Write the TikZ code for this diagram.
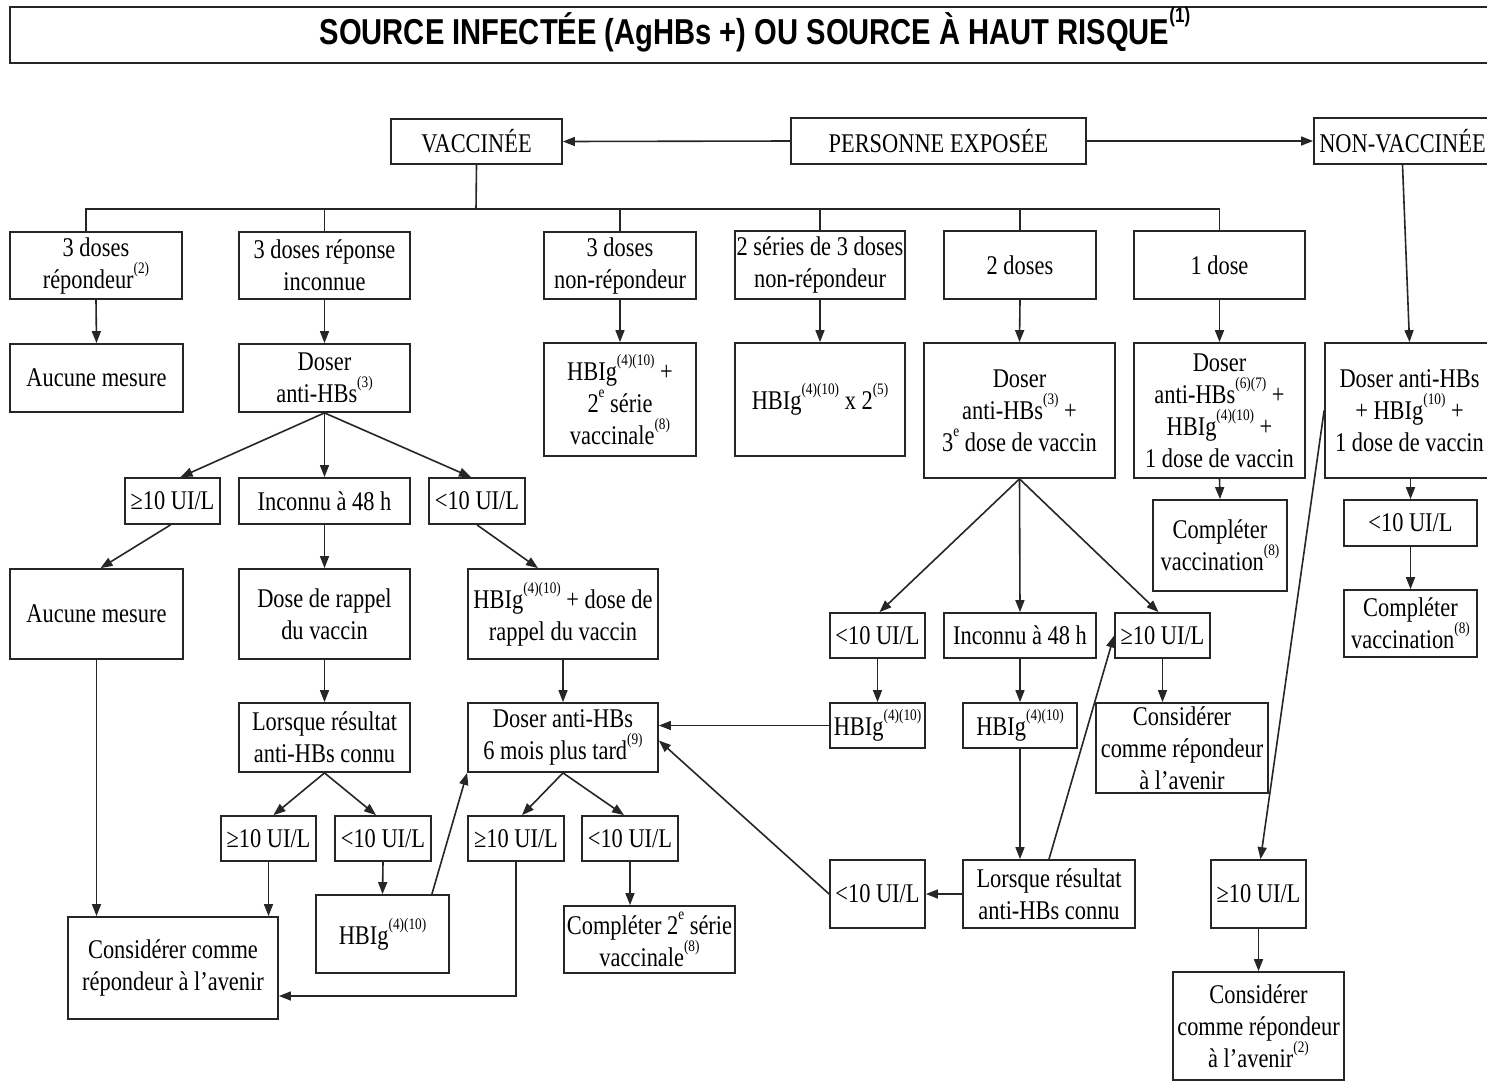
\documentclass[tikz,border=0pt]{standalone}
\usepackage{fontspec}
\setmainfont{Liberation Serif}[FakeStretch=0.83]
\newfontfamily\titlefont{Liberation Sans}[FakeStretch=0.81]
\usetikzlibrary{arrows.meta,calc}
\newcommand\sx[1]{\raisebox{0.55em}{\fontsize{8}{8}\selectfont #1}}
\newcommand\sxt[1]{\raisebox{0.6em}{\fontsize{10.5}{10.5}\selectfont #1}}
\tikzset{
  box/.style={draw=black!85, line width=0.9pt, inner sep=0pt, align=center,
    font=\fontsize{13.5}{16}\selectfont},
  arr/.style={draw=black!85, line width=0.8pt, -{Triangle[length=6pt,width=4.5pt]}},
  lnk/.style={draw=black!85, line width=0.8pt},
}
% \bx[extra options]{name}{x1}{y1}{x2}{y2}{text}
\newcommand\bx[7][]{\node[box, minimum width={(#5-#3)*0.5pt}, minimum height={(#6-#4)*0.5pt}, #1] (#2) at ({(#3+#5)/2},{(#4+#6)/2}) {#7};}
\begin{document}
\begin{tikzpicture}[x=0.5pt,y=-0.5pt]
\useasboundingbox (0,0) rectangle (1487,1083);
\clip (0,0) rectangle (1487,1083);
\fill[white] (0,0) rectangle (1487,1083);
% title
\bx[font=\titlefont\bfseries\fontsize{18}{20}\selectfont]{title}{10}{7}{1500}{63}{\raisebox{-4.75pt}[0pt][0pt]{SOURCE INFECTÉE (AgHBs +) OU SOURCE À HAUT RISQUE\sxt{(1)}}}
% row 1
\bx{vac}{391}{119}{562}{164}{VACCINÉE}
\bx{pers}{791}{118}{1086}{164}{PERSONNE EXPOSÉE}
\bx{nonv}{1314}{118}{1491}{164}{NON-VACCINÉE}
% row 2
\bx{a1}{10}{232}{182}{299}{3 doses\\répondeur\sx{(2)}}
\bx{a2}{239}{232}{410}{299}{3 doses réponse\\inconnue}
\bx{a3}{544}{232}{696}{299}{3 doses\\non-répondeur}
\bx{a4}{735}{231}{905}{299}{2 séries de 3 doses\\non-répondeur}
\bx{a5}{944}{231}{1096}{299}{2 doses}
\bx{a6}{1134}{231}{1305}{299}{1 dose}
% row 3
\bx{b1}{10}{344}{183}{412}{Aucune mesure}
\bx{b2}{239}{344}{410}{412}{Doser\\anti-HBs\sx{(3)}}
\bx{b3}{544}{343}{696}{456}{HBIg\sx{(4)(10)} +\\2\sx{e} série\\vaccinale\sx{(8)}}
\bx{b4}{735}{343}{905}{456}{HBIg\sx{(4)(10)} x 2\sx{(5)}}
\bx{b5}{924}{343}{1115}{478}{Doser\\anti-HBs\sx{(3)} +\\3\sx{e} dose de vaccin}
\bx{b6}{1134}{343}{1305}{478}{Doser\\anti-HBs\sx{(6)(7)} +\\HBIg\sx{(4)(10)} +\\1 dose de vaccin}
\bx{n1}{1325}{343}{1494}{478}{Doser anti-HBs\\+ HBIg\sx{(10)} +\\1 dose de vaccin}
% left branch
\bx{c1}{125}{478}{220}{524}{≥10 UI/L}
\bx{c2}{239}{478}{410}{524}{Inconnu à 48 h}
\bx{c3}{429}{478}{525}{524}{<10 UI/L}
\bx{d1}{10}{569}{183}{659}{Aucune mesure}
\bx{d2}{239}{569}{410}{659}{Dose de rappel\\du vaccin}
\bx{d3}{468}{569}{658}{659}{HBIg\sx{(4)(10)} + dose de\\rappel du vaccin}
\bx{e2}{239}{703}{410}{772}{Lorsque résultat\\anti-HBs connu}
\bx{e3}{468}{703}{658}{772}{Doser anti-HBs\\6 mois plus tard\sx{(9)}}
\bx{f1}{221}{816}{316}{861}{≥10 UI/L}
\bx{f2}{335}{816}{431}{861}{<10 UI/L}
\bx{f3}{468}{816}{564}{861}{≥10 UI/L}
\bx{f4}{582}{816}{678}{861}{<10 UI/L}
\bx{g1}{68}{917}{278}{1019}{Considérer comme\\répondeur à l’avenir}
\bx{g2}{316}{895}{449}{973}{HBIg\sx{(4)(10)}}
\bx{g4}{564}{906}{735}{973}{Compléter 2\sx{e} série\\vaccinale\sx{(8)}}
% 2 doses branch
\bx{h1}{830}{613}{925}{658}{<10 UI/L}
\bx{h2}{944}{613}{1096}{658}{Inconnu à 48 h}
\bx{h3}{1115}{613}{1210}{658}{≥10 UI/L}
\bx{i1}{830}{703}{925}{748}{HBIg\sx{(4)(10)}}
\bx{i2}{963}{703}{1077}{748}{HBIg\sx{(4)(10)}}
\bx{i3}{1096}{703}{1268}{793}{Considérer\\comme répondeur\\à l’avenir}
\bx{j1}{830}{860}{925}{928}{<10 UI/L}
\bx{j2}{963}{860}{1135}{928}{Lorsque résultat\\anti-HBs connu}
% 1 dose and non-vaccinée
\bx{k6}{1153}{500}{1287}{591}{Compléter\\vaccination\sx{(8)}}
\bx{kn}{1344}{500}{1477}{546}{<10 UI/L}
\bx{ln}{1344}{590}{1477}{657}{Compléter\\vaccination\sx{(8)}}
\bx{mn}{1211}{860}{1306}{928}{≥10 UI/L}
\bx{on}{1173}{972}{1344}{1080}{Considérer\\comme répondeur\\à l’avenir\sx{(2)}}
\coordinate (bus) at (476,209);
% connectors top
\draw[arr] (pers.west) -- (vac.east);
\draw[arr] (pers.east) -- (nonv.west);
\draw[lnk] (vac.south) -- (bus);
\draw[lnk] ([xshift=-5pt]a1.north) |- (bus) -| (a6.north);
\foreach \n in {a2,a3,a4,a5}{\draw[lnk] (\n.north) -- (\n.north |- bus);}
\foreach \s/\t in {a1/b1,a2/b2,a3/b3,a4/b4,a5/b5,a6/b6}{\draw[arr] (\s.south) -- (\t.north);}
\draw[arr] (nonv.south) -- (n1.north);
% left branch
\draw[arr] (b2.south) -- ([xshift=4pt]c1.north);
\draw[arr] (b2.south) -- (c2.north);
\draw[arr] (b2.south) -- ([xshift=-3pt]c3.north);
\draw[arr] ([xshift=-1pt]c1.south) -- ([xshift=2pt]d1.north);
\draw[arr] (c2.south) -- (d2.north);
\draw[arr] (c3.south) -- ([xshift=-12.5pt]d3.north);
\draw[arr] (d2.south) -- (e2.north);
\draw[arr] (d3.south) -- (e3.north);
\draw[arr] (e2.south) -- ([xshift=2.5pt]f1.north);
\draw[arr] (e2.south) -- ([xshift=-3.5pt]f2.north);
\draw[arr] (e3.south) -- ([xshift=3pt]f3.north);
\draw[arr] (e3.south) -- ([xshift=-3pt]f4.north);
\draw[arr] (d1.south) -- (d1.south |- g1.north);
\draw[arr] (f1.south) -- (f1.south |- g1.north);
\draw[arr] (f2.south) -- (g2.north);
\draw[arr] (f3.south) |- ([yshift=-14pt]g1.east);
\draw[arr] (f4.south) -- (f4.south |- g4.north);
\draw[arr] ([xshift=-9pt]g2.north east) -- (e3.south west);
% 2 doses branch
\draw[arr] (b5.south) -- ([xshift=1pt]h1.north);
\draw[arr] (b5.south) -- (h2.north);
\draw[arr] (b5.south) -- ([xshift=-2pt]h3.north);
\draw[arr] (h1.south) -- (i1.north);
\draw[arr] (h2.south) -- (i2.north);
\draw[arr] (h3.south) -- (h3.south |- i3.north);
\draw[arr] (i1.west) -- (i1.west -| e3.east);
\draw[arr] (i2.south) -- (i2.south |- j2.north);
\draw[arr] (j2.west) -- (j1.east);
\draw[arr] (j1.west) -- ([yshift=-1.5pt]e3.east);
\draw[arr] (j2.north) -- (h3.west);
% 1 dose and non-vaccinee
\draw[arr] (b6.south) -- (k6.north);
\draw[arr] (n1.south -| kn.north) -- (kn.north);
\draw[arr] (kn.south) -- (ln.north);
\draw[arr] (n1.west) -- ([xshift=1pt]mn.north);
\draw[arr] (mn.south) -- (mn.south |- on.north);
\end{tikzpicture}
\end{document}
